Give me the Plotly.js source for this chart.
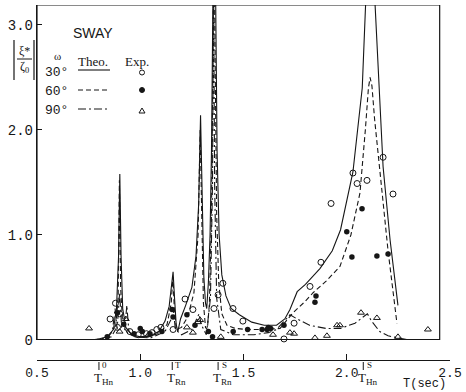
<!DOCTYPE html>
<html><head><meta charset="utf-8">
<script src="https://cdn.plot.ly/plotly-3.0.1.min.js"></script>
<style>html,body{margin:0;padding:0;background:#fff}#chart{width:466px;height:392px}</style>
</head><body><div id="chart"></div>
<script>
// ---- data ----
const xTickVals = [0.5, 1.0, 1.5, 2.0, 2.5];
const xTickText = ['0.5', '1.0', '1.5', '2.0', '2.5'];
const yTickVals = [0, 1, 2, 3];
const yTickText = ['0', '1.0', '2.0', '3.0'];

const specialT = [0.80, 1.155, 1.377, 2.08];
const specialSub = ['Hn', 'Rn', 'Rn', 'Hn'];
const specialSup = ['0', 'T', 'S', 'S'];

const legendAngles = ['30°', '60°', '90°'];

// Theoretical 30° (solid)
const theo30T = [0.78,0.84,0.87,0.885,0.895,0.901,0.907,0.915,0.93,0.96,1.00,1.05,1.09,1.12,1.14,1.152,1.159,1.166,1.174,1.182,1.195,1.22,1.25,1.27,1.283,1.292,1.300,1.308,1.316,1.322,1.330,1.338,1.345,1.352,1.358,1.365,1.372,1.382,1.395,1.415,1.44,1.48,1.54,1.60,1.66,1.70,1.725,1.76,1.80,1.87,1.93,1.97,2.03,2.075,2.10,2.118,2.137,2.16,2.176,2.21,2.248];
const theo30V = [0.0,0.03,0.10,0.30,0.80,1.58,0.80,0.30,0.12,0.05,0.03,0.04,0.08,0.18,0.32,0.50,0.65,0.40,0.15,0.08,0.20,0.33,0.50,0.80,1.30,2.14,1.30,0.60,0.35,0.30,0.55,1.0,1.8,3.3,4.5,3.3,1.8,1.0,0.62,0.42,0.30,0.24,0.17,0.14,0.14,0.20,0.29,0.46,0.53,0.68,0.85,1.05,1.6,2.4,3.3,4.5,3.2,2.3,1.65,0.95,0.33];

// Theoretical 60° (dashed)
const theo60T = [0.80,0.86,0.88,0.893,0.899,0.905,0.915,0.94,0.98,1.04,1.10,1.13,1.15,1.158,1.165,1.175,1.20,1.23,1.26,1.28,1.290,1.298,1.306,1.316,1.325,1.335,1.345,1.352,1.357,1.363,1.370,1.380,1.395,1.42,1.46,1.52,1.60,1.677,1.74,1.80,1.837,1.90,1.967,2.02,2.064,2.09,2.105,2.113,2.122,2.135,2.15,2.17,2.20,2.243];
const theo60V = [0.0,0.03,0.10,0.40,1.52,0.50,0.15,0.06,0.03,0.03,0.07,0.15,0.35,0.60,0.30,0.10,0.12,0.22,0.45,1.0,2.0,1.0,0.35,0.12,0.10,0.35,1.2,2.6,4.0,2.6,1.2,0.55,0.25,0.14,0.11,0.10,0.10,0.11,0.26,0.37,0.45,0.56,0.70,1.0,1.40,2.0,2.40,2.50,2.42,2.10,1.80,1.40,0.85,0.16];

// Theoretical 90° (dash-dot)
const theo90T = [0.76,0.84,0.865,0.878,0.888,0.90,0.91,0.925,0.935,0.945,0.97,1.05,1.12,1.15,1.16,1.17,1.20,1.25,1.285,1.295,1.32,1.34,1.35,1.355,1.36,1.37,1.39,1.45,1.55,1.62,1.66,1.70,1.725,1.76,1.82,1.90,1.97,2.04,2.08,2.10,2.12,2.16,2.20,2.258,2.30];
const theo90V = [0.0,0.02,0.08,0.30,0.10,0.45,0.12,0.10,0.33,0.08,0.03,0.02,0.08,0.20,0.30,0.10,0.05,0.10,0.25,0.15,0.05,0.40,1.5,3.5,1.5,0.40,0.10,0.05,0.05,0.07,0.10,0.18,0.24,0.20,0.14,0.11,0.11,0.16,0.22,0.25,0.18,0.08,0.04,0.02,0.0];

// Experiments
const exp30T = [0.854,0.88,0.89,0.90,0.95,0.99,1.03,1.057,1.08,1.10,1.159,1.217,1.255,1.357,1.377,1.40,1.449,1.497,1.696,1.745,1.822,1.875,1.924,2.030,2.05,2.098,2.176,2.224];
const exp30V = [0.20,0.35,0.12,0.25,0.08,0.05,0.06,0.07,0.10,0.12,0.10,0.39,0.29,0.30,0.43,0.54,0.30,0.18,0.01,0.16,0.51,0.74,1.30,1.59,1.49,1.52,1.74,1.39];

const exp60T = [0.84,0.89,0.92,0.97,1.0,1.01,1.047,1.105,1.154,1.159,1.226,1.265,1.33,1.35,1.45,1.52,1.59,1.614,1.62,1.632,1.696,1.846,1.851,2.0,2.025,2.074,2.146,2.20];
const exp60V = [0.03,0.26,0.15,0.06,0.11,0.08,0.06,0.08,0.29,0.22,0.24,0.14,0.08,0.03,0.08,0.10,0.10,0.10,0.12,0.11,0.14,0.36,0.42,1.03,0.79,1.25,0.80,0.82];

const exp90T = [0.752,0.90,0.93,1.04,1.226,1.255,1.28,1.29,1.39,1.643,1.725,1.745,1.846,1.904,1.953,1.967,2.069,2.146,2.248,2.393];
const exp90V = [0.11,0.08,0.20,0.05,0.12,0.07,0.17,0.19,0.03,0.05,0.07,0.06,0.02,0.04,0.14,0.14,0.26,0.21,0.03,0.10];

// ---- layout helpers ----
const W=466,H=392,ML=37,MR=16,MT=5,MB=32;
const PW=W-ML-MR, PH=H-MT-MB;
function px(x){return (x-ML)/PW;}
function py(y){return (H-MB-y)/PH;}
const INK='#161616';
const serif='Liberation Serif, serif';
const mono='Liberation Mono, monospace';

const traces = [
  {x:theo30T,y:theo30V,mode:'lines',line:{color:INK,width:1.1},hoverinfo:'skip'},
  {x:theo60T,y:theo60V,mode:'lines',line:{color:INK,width:1.1,dash:'5px,3px'},hoverinfo:'skip'},
  {x:theo90T,y:theo90V,mode:'lines',line:{color:INK,width:1.1,dash:'8px,3px,2px,3px'},hoverinfo:'skip'},
  {x:exp30T,y:exp30V,mode:'markers',cliponaxis:false,marker:{symbol:'circle-open',size:6,color:INK,line:{width:1,color:INK}}},
  {x:exp60T,y:exp60V,mode:'markers',cliponaxis:false,marker:{symbol:'circle',size:5.5,color:INK}},
  {x:exp90T,y:exp90V,mode:'markers',cliponaxis:false,marker:{symbol:'triangle-up-open',size:6,color:INK,line:{width:1,color:INK}}}
];

const shapes = [
  {type:'rect',xref:'x',yref:'y',x0:0.5,x1:2.45,y0:0,y1:3.19,line:{color:INK,width:1.2}},
  {type:'line',xref:'x',yref:'y',x0:0.5,x1:2.45,y0:0,y1:0,line:{color:INK,width:1.8}},
  // legend line samples
  {type:'line',xref:'paper',yref:'paper',x0:px(78),x1:px(110),y0:py(70),y1:py(70),line:{color:INK,width:1.1}},
  {type:'line',xref:'paper',yref:'paper',x0:px(78),x1:px(110),y0:py(90),y1:py(90),line:{color:INK,width:1.1,dash:'5px,3px'}},
  {type:'line',xref:'paper',yref:'paper',x0:px(78),x1:px(110),y0:py(109),y1:py(109),line:{color:INK,width:1.1,dash:'8px,3px,2px,3px'}},
  // legend markers
  {type:'circle',xref:'paper',yref:'paper',x0:px(139.5),x1:px(144.5),y0:py(70),y1:py(75),line:{color:INK,width:1}},
  {type:'circle',xref:'paper',yref:'paper',x0:px(139.5),x1:px(144.5),y0:py(87.5),y1:py(92.5),fillcolor:INK,line:{color:INK,width:1}},
  {type:'path',xref:'paper',yref:'paper',path:`M ${px(139)} ${py(113)} L ${px(145)} ${py(113)} L ${px(142)} ${py(108)} Z`,line:{color:INK,width:1}},
  // y-axis title bars and fraction line
  {type:'line',xref:'paper',yref:'paper',x0:px(14),x1:px(14),y0:py(40),y1:py(80),line:{color:INK,width:1.2}},
  {type:'line',xref:'paper',yref:'paper',x0:px(34),x1:px(34),y0:py(40),y1:py(80),line:{color:INK,width:1.2}},
  {type:'line',xref:'paper',yref:'paper',x0:px(17),x1:px(32),y0:py(59),y1:py(59),line:{color:INK,width:1}}
];

const annotations = [
  {text:'SWAY',x:px(93),y:py(33),font:{family:'Liberation Sans, sans-serif',size:14,color:INK}},
  {text:'ω',x:px(57),y:py(56),font:{family:serif,size:11,color:INK}},
  {text:'Theo.',x:px(93),y:py(61),font:{family:serif,size:13,color:INK}},
  {text:'Exp.',x:px(137),y:py(61),font:{family:serif,size:13,color:INK}},
  {text:'ξ*',x:px(24),y:py(51),font:{family:serif,size:12,color:INK}},
  {text:'ζ<sub>0</sub>',x:px(24),y:py(67),font:{family:serif,size:12,color:INK}},
  {text:'T(sec)',x:px(424),y:py(384),font:{family:mono,size:12,color:INK}}
];
legendAngles.forEach((a,i)=>{
  annotations.push({text:a,x:px(56),y:py([73,91,110][i]),font:{family:mono,size:13,color:INK}});
});
specialT.forEach((t,i)=>{
  shapes.push({type:'line',xref:'x',yref:'paper',x0:t,x1:t,y0:py(362),y1:py(370),line:{color:INK,width:1}});
  annotations.push({text:'T<sub>'+specialSub[i]+'</sub>',xref:'x',x:t,xshift:-7,xanchor:'left',y:py(378),
    font:{family:serif,size:13,color:INK}});
  annotations.push({text:specialSup[i],xref:'x',x:t,xshift:6,y:py(365),font:{family:serif,size:9,color:INK}});
});
annotations.forEach(a=>{
  if(!a.xref) a.xref='paper';
  a.yref='paper'; a.showarrow=false;
  if(!a.xanchor) a.xanchor='center';
  a.yanchor='middle';
});

const layout = {
  width:W,height:H,margin:{l:ML,r:MR,t:MT,b:MB,pad:0},
  paper_bgcolor:'#fff',plot_bgcolor:'#fff',showlegend:false,
  xaxis:{range:[0.5,2.5],domain:[0,1],anchor:'free',position:0,showline:true,linecolor:INK,linewidth:1.2,
    ticks:'inside',ticklen:6,tickcolor:INK,tickvals:xTickVals,ticktext:xTickText,showgrid:false,zeroline:false,
    tickfont:{family:mono,size:13,color:INK}},
  yaxis:{range:[0,3.19],domain:[py(340),1],showline:true,linecolor:INK,linewidth:1.2,
    ticks:'inside',ticklen:5,tickcolor:INK,tickvals:yTickVals,ticktext:yTickText,showgrid:false,zeroline:false,
    tickfont:{family:mono,size:14,color:INK}},
  shapes:shapes,annotations:annotations
};
Plotly.newPlot('chart',traces,layout,{staticPlot:true,displayModeBar:false});
</script></body></html>
